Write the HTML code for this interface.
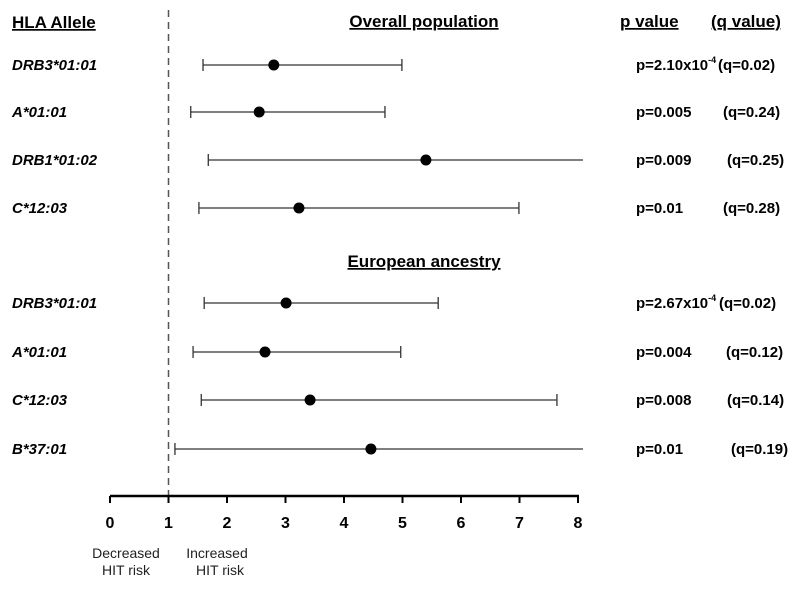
<!DOCTYPE html>
<html><head><meta charset="utf-8"><style>
body{margin:0;background:#fff;}
svg{display:block;font-family:"Liberation Sans",Arial,sans-serif;}
.b{font-weight:bold;}
</style></head><body>
<svg id="c" width="800" height="589" viewBox="0 0 800 589">
<text x="12" y="28" class="b" font-size="17" text-decoration="underline">HLA Allele</text>
<text x="424" y="27" class="b" font-size="17" text-decoration="underline" text-anchor="middle">Overall population</text>
<text x="424" y="267" class="b" font-size="17" text-decoration="underline" text-anchor="middle">European ancestry</text>
<text x="620" y="27" class="b" font-size="17" text-decoration="underline">p value</text>
<text x="711" y="27" class="b" font-size="17" text-decoration="underline">(q value)</text>
<line x1="168.5" y1="10" x2="168.5" y2="496" stroke="#555" stroke-width="1.5" stroke-dasharray="7,5"/>
<g id="axis"></g>
<g id="rows"></g>
<text x="126" y="558" font-size="14" text-anchor="middle" fill="#222">Decreased</text>
<text x="126" y="575" font-size="14" text-anchor="middle" fill="#222">HIT risk</text>
<text x="217" y="558" font-size="14" text-anchor="middle" fill="#222">Increased</text>
<text x="220" y="575" font-size="14" text-anchor="middle" fill="#222">HIT risk</text>
</svg>
<script>
const alleles=["DRB3*01:01","A*01:01","DRB1*01:02","C*12:03","DRB3*01:01","A*01:01","C*12:03","B*37:01"];
const ors=[2.80,2.55,5.40,3.23,3.01,2.65,3.42,4.46];
const lower=[1.59,1.38,1.68,1.52,1.61,1.42,1.56,1.11];
const upper=[4.99,4.70,8.2,6.99,5.61,4.97,7.64,8.2];
const pvals=["p=2.10x10","p=0.005","p=0.009","p=0.01","p=2.67x10","p=0.004","p=0.008","p=0.01"];
const qvals=["(q=0.02)","(q=0.24)","(q=0.25)","(q=0.28)","(q=0.02)","(q=0.12)","(q=0.14)","(q=0.19)"];
const ticks=[0,1,2,3,4,5,6,7,8];
const rowY=[65,112,160,208,303,352,400,449];
const qX=[718,723,727,723,719,726,727,731];
const NS="http://www.w3.org/2000/svg";
const X=v=>110+v*58.5, XMAX=583;
function mk(t,a,p){const e=document.createElementNS(NS,t);for(const k in a)e.setAttribute(k,a[k]);p.appendChild(e);return e;}
const ax=document.getElementById('axis'), rows=document.getElementById('rows');
const al=mk('line',{x1:X(0),y1:496,x2:X(8)+1,y2:496,stroke:'#000','stroke-width':2.5},ax);


ticks.forEach(t=>{
 const l=mk('line',{x1:X(t),y1:496,x2:X(t),y2:503,stroke:'#000','stroke-width':2},ax);
 
 
 const tx=mk('text',{x:X(t),y:528,'font-size':16,'font-weight':'bold','text-anchor':'middle'},ax);
 tx.textContent=t;
 
 
});
alleles.forEach((a,i)=>{
 const y=rowY[i];
 const g=mk('g',{},rows);
 
 
 const lab=mk('text',{x:12,y:y+5,'font-size':15,'font-weight':'bold','font-style':'italic'},g);
 lab.textContent=a;
 
 
 const x1=X(lower[i]), x2=Math.min(X(upper[i]),XMAX);
 const ci=mk('line',{x1:x1,y1:y,x2:x2,y2:y,stroke:'#333','stroke-width':1.3},g);
 
 
 const c1=mk('line',{x1:x1,y1:y-6,x2:x1,y2:y+6,stroke:'#333','stroke-width':1.3},g);
 
 
 if(upper[i]<=8){const c2=mk('line',{x1:x2,y1:y-6,x2:x2,y2:y+6,stroke:'#333','stroke-width':1.3},g);
 
 }
 const d=mk('circle',{cx:X(ors[i]),cy:y,r:5.5,fill:'#000'},g);
 
 
 const p=mk('text',{x:636,y:y+5,'font-size':15,'font-weight':'bold'},g);
 p.textContent=pvals[i];
 if(pvals[i].endsWith('x10')){const s=mk('tspan',{'font-size':9,dy:-7},p);s.textContent='-4';}
 
 
 const q=mk('text',{x:qX[i],y:y+5,'font-size':15,'font-weight':'bold'},g);
 q.textContent=qvals[i];
 
 
});
</script>
</body></html>
